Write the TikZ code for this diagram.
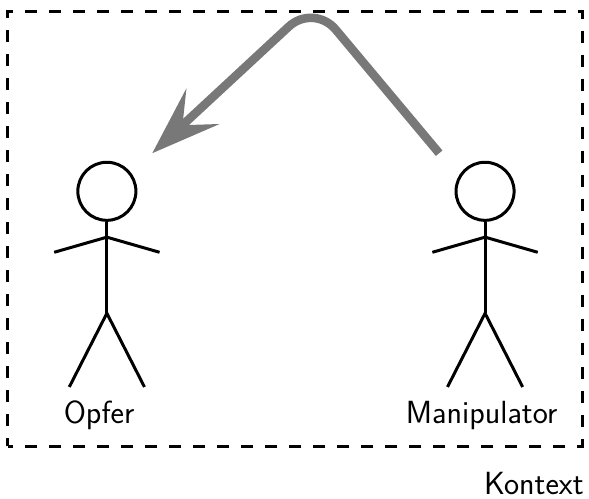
\documentclass[tikz,border=0pt]{standalone}
\usetikzlibrary{arrows.meta}

\tikzset{
	figureline/.style={line width=1.75pt, draw=black},
	contextframe/.style={line width=1.75pt, draw=black, dash pattern=on 7pt off 7pt, dash phase=2.3pt},
	influence/.style={line width=5pt, draw=black!53, rounded corners=0.7cm,
		-{Stealth[length=40pt, width=28pt, inset=16pt]}},
	caption/.style={font=\sffamily\fontsize{18.7}{22}\selectfont, anchor=base, inner sep=0pt}
}

\begin{document}
\begin{tikzpicture}
	\useasboundingbox (0, 0) rectangle (12.07, 10.21);

	% Rahmen
	\draw[contextframe] (0.16, 1.07) rectangle (11.93, 9.98);
	\node[caption] (kontext) at (10.94, 0.08) {Kontext};

	% Strichmaennchen
	\foreach \name/\x/\textx/\txt in {opfer/2.19/2.03/Opfer, manipulator/9.94/9.87/Manipulator} {
		\node[figureline, circle, draw, minimum size=1.19cm, inner sep=0pt] (\name head) at (\x, 6.29) {};
		\coordinate (\name neck) at (\x, 5.35);
		\coordinate (\name hip) at (\x, 3.79);
		\coordinate (\name lefthand) at (\x - 1.08, 5.04);
		\coordinate (\name righthand) at (\x + 1.08, 5.04);
		\coordinate (\name leftfoot) at (\x - 0.77, 2.28);
		\coordinate (\name rightfoot) at (\x + 0.77, 2.28);
		\draw[figureline] (\name head) -- (\name hip);
		\draw[figureline] (\name lefthand) -- (\name neck) -- (\name righthand);
		\draw[figureline] (\name leftfoot) -- (\name hip) -- (\name rightfoot);
		\node[caption] (\name label) at (\textx, 1.54) {\txt};
	}

	% Pfeil
	\coordinate (arrowstart) at (9.0, 7.07);
	\coordinate (arrowpeak) at (6.43, 10.14);
	\coordinate (arrowend) at (3.12, 7.07);
	\draw[influence] (arrowstart) -- (arrowpeak) -- (arrowend);
\end{tikzpicture}
\end{document}
